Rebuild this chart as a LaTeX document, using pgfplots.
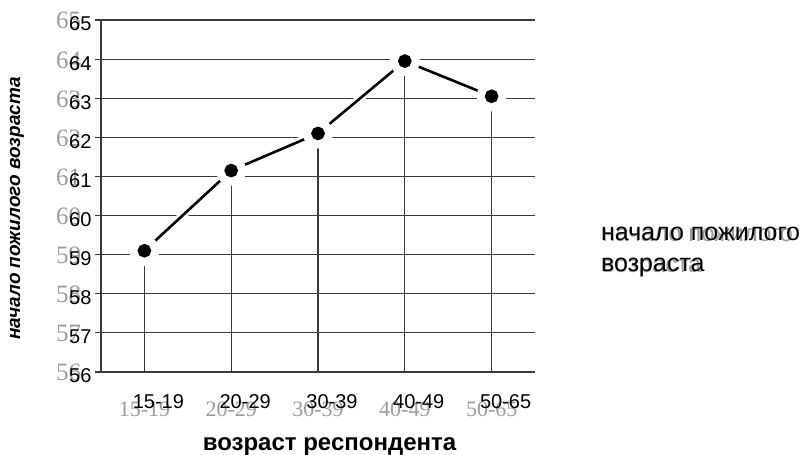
\documentclass[border=0pt]{standalone}
\usepackage{fontspec}
\setmainfont{Liberation Sans}
\newfontfamily\ghostfont{Liberation Serif}
\usepackage{pgfplots}
\pgfplotsset{compat=1.18}

\definecolor{ghost}{HTML}{9C9C9C}
\definecolor{gridc}{HTML}{3A3A3A}

% faint doubled copy of a label, drawn behind it (as in the scanned original)
\newcommand{\ghost}[4]{\makebox[0pt][l]{\hspace*{#1}\raisebox{#2}[0pt][0pt]{\color{ghost}\ghostfont\fontsize{#3}{#3}\selectfont #4}}}
\newcommand{\ghostsans}[4]{\makebox[0pt][l]{\hspace*{#1}\raisebox{#2}[0pt][0pt]{\color{ghost}\fontsize{#3}{#3}\selectfont #4}}}
\newcommand{\xl}[1]{\ghost{-14pt}{-8pt}{22}{#1}#1}

\begin{document}
\begin{tikzpicture}
\path[use as bounding box] (-101pt,-83pt) rectangle (703pt,372pt);
\begin{axis}[
    at={(0,0)}, anchor=south west,
    scale only axis,
    width=434pt, height=352pt,
    xmin=-0.5, xmax=4.5,
    ymin=56, ymax=65,
    /pgf/number format/assume math mode=true,
    axis x line*=bottom,
    axis y line*=left,
    axis line style={gridc, line width=1.2pt},
    xtick={0,...,4},
    xticklabels={\xl{15-19},\xl{20-29},\xl{30-39},\xl{40-49},\xl{50-65}},
    xtick style={draw=none},
    xticklabel style={font=\fontsize{20}{23}\selectfont, xshift=14pt, yshift=-13pt},
    ytick={56,...,65},
    tick align=outside,
    major tick length=6pt,
    ytick style={gridc, line width=1.2pt},
    yticklabel={\ghost{-13pt}{2pt}{25}{\pgfmathprintnumber{\tick}}\pgfmathprintnumber{\tick}},
    yticklabel style={font=\fontsize{20}{23}\selectfont, yshift=-4pt},
    ymajorgrids,
    grid style={gridc, line width=1.2pt},
    xlabel={возраст респондента},
    xlabel style={at={(axis description cs:0.5265,-0.211)}, anchor=center,
        font=\bfseries\fontsize{24}{28}\selectfont},
    ylabel={начало пожилого возраста},
    ylabel style={at={(axis description cs:-0.1935,0.4645)}, anchor=center,
        font=\bfseries\itshape\fontsize{19}{22}\selectfont},
    legend style={at={(axis description cs:1.145,0.418)}, anchor=north west,
        draw=none, fill=none, font=\fontsize{25}{31}\selectfont,
        nodes={align=left, inner sep=0pt}},
    legend cell align=left,
]
% white halo that interrupts the grid around the line
\addplot[white, line width=8pt, mark=*, mark size=11pt,
    mark options={draw=white, fill=white}, forget plot]
    coordinates {(0,59.1) (1,61.15) (2,62.1) (3,63.95) (4,63.05)};
% drop lines to the axis
\addplot[ycomb, gridc, line width=1.2pt, forget plot]
    coordinates {(0,59.1) (1,61.15) (2,62.1) (3,63.95) (4,63.05)};
% series
\addplot[black, line width=2.6pt, mark=*, mark size=5.5pt,
    mark options={fill=black}, forget plot]
    coordinates {(0,59.1) (1,61.15) (2,62.1) (3,63.95) (4,63.05)};
\addlegendimage{empty legend}
\addlegendentry{\ghostsans{1pt}{-1pt}{24}{начало пожилого}начало пожилого\\\ghostsans{1pt}{-1pt}{24}{возраста}возраста}
\end{axis}
\end{tikzpicture}
\end{document}
